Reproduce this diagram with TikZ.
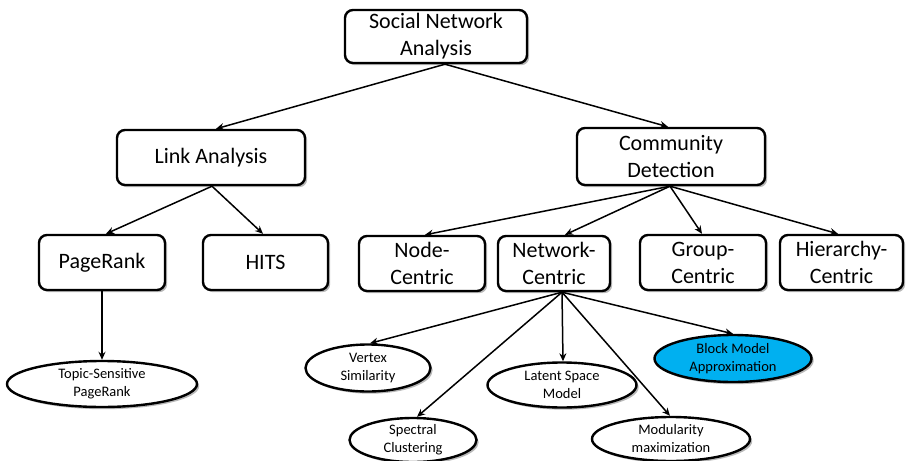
\documentclass[tikz,border=0pt]{standalone}
\usepackage{fontspec}
\setmainfont{Carlito}
\usetikzlibrary{arrows.meta,shapes.geometric,shadows}
\definecolor{blockblue}{RGB}{0,176,240}
\tikzset{
  shad/.style={drop shadow={shadow xshift=2.2pt,shadow yshift=-2.2pt,fill=black,opacity=0.28}},
  box/.style={draw,line width=2.4pt,rounded corners=8pt,fill=white,align=center,inner sep=0pt,
    font=\fontsize{22}{27}\selectfont,shad},
  ell/.style={draw,ellipse,line width=2.4pt,fill=white,align=center,inner sep=0pt,
    font=\fontsize{14.5}{18}\selectfont,shad},
  arr/.style={-{Stealth[length=8pt,width=7pt]},line width=1.5pt}
}
\begin{document}
\begin{tikzpicture}[x=1pt,y=-1pt]
\useasboundingbox[fill=white] (0,0) rectangle (906,461);
% boxes
\node[box,minimum width=182pt,minimum height=53pt] (sna) at (436,36.5) {Social Network\\Analysis};
\node[box,minimum width=188pt,minimum height=55pt] (link) at (211,157.5) {Link Analysis};
\node[box,minimum width=188pt,minimum height=57pt] (cd) at (671,156.5) {Community\\Detection};
\node[box,minimum width=126pt,minimum height=55pt] (pr) at (102,262.5) {PageRank};
\node[box,minimum width=125pt,minimum height=55pt] (hits) at (265.5,262.5) {HITS};
\node[box,minimum width=126pt,minimum height=55pt] (node) at (422,263.5) {Node-\\Centric};
\node[box,minimum width=112pt,minimum height=55pt] (net) at (554,263.5) {Network-\\Centric};
\node[box,minimum width=126pt,minimum height=55pt] (group) at (703,262.5) {Group-\\Centric};
\node[box,minimum width=123pt,minimum height=55pt] (hier) at (841.5,262.5) {Hierarchy-\\Centric};
% ellipses
\node[ell,minimum width=190pt,minimum height=46pt] (tsp) at (102,384) {Topic-Sensitive\\PageRank};
\node[ell,minimum width=125pt,minimum height=47pt] (vert) at (368,368) {Vertex\\Similarity};
\node[ell,minimum width=149pt,minimum height=45pt] (lat) at (562,385) {Latent Space\\Model};
\node[ell,minimum width=127pt,minimum height=44pt] (spec) at (413,440) {Spectral\\Clustering};
\node[ell,minimum width=158pt,minimum height=44pt] (mod) at (671,439) {Modularity\\maximization};
\node[ell,fill=blockblue,minimum width=157pt,minimum height=47pt] (block) at (733,358.5) {Block Model\\Approximation};
% connectors
\draw[arr] ([xshift=9pt]sna.south) -- ([xshift=5pt]link.north);
\draw[arr] ([xshift=9pt]sna.south) -- ([xshift=-3pt]cd.north);
\draw[arr] ([xshift=1pt]link.south) -- ([xshift=4pt]pr.north);
\draw[arr] ([xshift=1pt]link.south) -- ([xshift=-2.5pt]hits.north);
\draw[arr] ([xshift=-1pt]cd.south) -- ([xshift=3pt]node.north);
\draw[arr] ([xshift=-1pt]cd.south) -- ([xshift=11pt]net.north);
\draw[arr] ([xshift=-1pt]cd.south) -- ([xshift=-1pt]group.north);
\draw[arr] ([xshift=-1pt]cd.south) -- ([xshift=-3.5pt]hier.north);
\draw[arr] (pr.south) -- (tsp.north);
\draw[arr] ([xshift=8pt]net.south) -- ([xshift=2pt]vert.north);
\draw[arr] ([xshift=8pt]net.south) -- ([xshift=4pt]spec.north);
\draw[arr] ([xshift=8pt]net.south) -- ([xshift=1pt]lat.north);
\draw[arr] ([xshift=8pt]net.south) -- ([xshift=-1pt]mod.north);
\draw[arr] ([xshift=8pt]net.south) -- (block.north);
\end{tikzpicture}
\end{document}
